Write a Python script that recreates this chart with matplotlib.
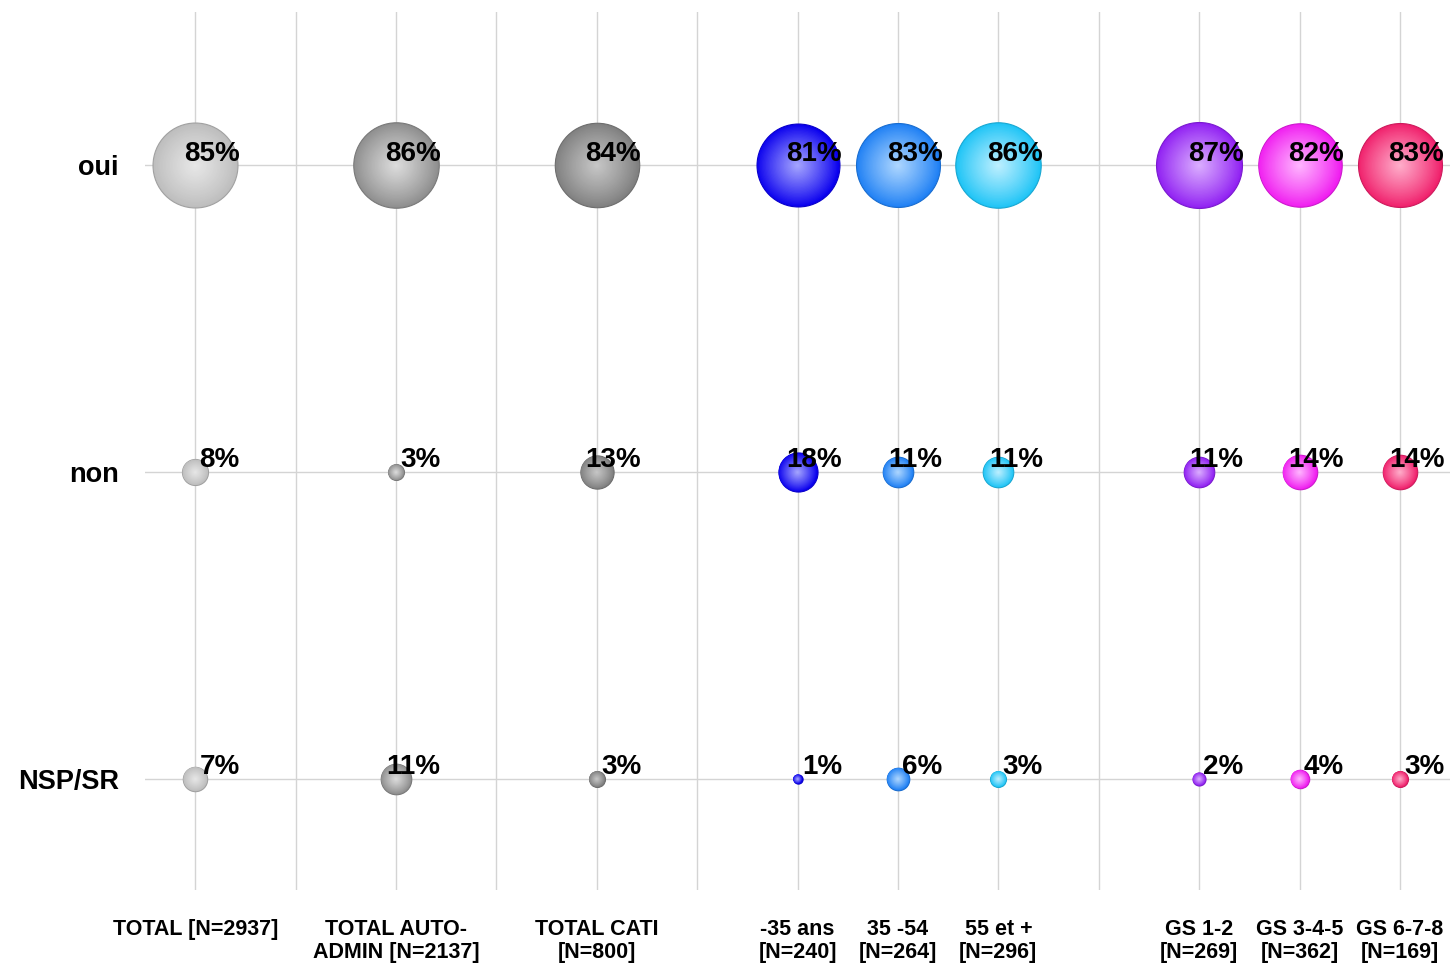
import numpy as np
import matplotlib.pyplot as plt
from matplotlib.colors import to_rgb

plt.rcParams['font.family'] = ['Liberation Sans', 'DejaVu Sans']

# données
groupes = ['TOTAL [N=2937]', 'TOTAL AUTO-\nADMIN [N=2137]', 'TOTAL CATI\n[N=800]',
           '-35 ans\n[N=240]', '35 -54\n[N=264]', '55 et +\n[N=296]',
           'GS 1-2\n[N=269]', 'GS 3-4-5\n[N=362]', 'GS 6-7-8\n[N=169]']
positions = [1, 3, 5, 7, 8, 9, 11, 12, 13]
reponses = ['oui', 'non', 'NSP/SR']
oui = [85, 86, 84, 81, 83, 86, 87, 82, 83]
non = [8, 3, 13, 18, 11, 11, 11, 14, 14]
nsp = [7, 11, 3, 1, 6, 3, 2, 4, 3]

# couleurs (bord, reflet)
bords = ['#bdbdbd', '#8e8e8e', '#808080', '#0a00ee', '#1f80f4', '#1ec4f6',
         '#9020f2', '#f01ef0', '#f0206c']
reflets = ['#e8e8e8', '#dedede', '#c8c8c8', '#a8a8ff', '#b0d8ff', '#c0f0ff',
           '#dcb0ff', '#ffb8ff', '#ffb0cc']

fig = plt.figure(figsize=(14.52, 9.65), dpi=100)
ax = fig.add_axes([0.0999, 0.0777, 0.8988, 0.9098])

y_rows = [3, 2, 1]
s_max = 3830  # taille (pt^2) pour la valeur max
v_max = max(oui + non + nsp)

for yr, vals in zip(y_rows, [oui, non, nsp]):
    for i, (x, v) in enumerate(zip(positions, vals)):
        c_out = np.array(to_rgb(bords[i]))
        c_in = np.array(to_rgb(reflets[i]))
        s = s_max * v / v_max
        n = 30
        for k in range(n):
            f = 1 - k / n
            t = (1 - f) ** 0.9
            col = c_out * (1 - t) + c_in * t
            ax.scatter(x, yr, s=s * f ** 2, color=col,
                       edgecolor=(c_out * 0.85 if k == 0 else 'none'),
                       linewidth=0.8 if k == 0 else 0, zorder=3 + k * 0.01)
        ax.annotate(f'{v}%', (x, yr), xytext=(32, 3.5), textcoords='offset points',
                    ha='right', va='baseline', fontsize=20, fontweight='bold',
                    color='black', zorder=10)

ax.set_xlim(0.5, 13.5)
ax.set_ylim(0.638, 3.5)

ax.set_xticks(range(1, 14))
labels = [''] * 13
for p, g in zip(positions, groupes):
    labels[p - 1] = g
ax.set_xticklabels(labels, fontsize=15.5, fontweight='bold', linespacing=1.12)
ax.tick_params(axis='x', length=0, pad=21)

ax.set_yticks(y_rows)
ax.set_yticklabels(reponses, fontsize=19.5, fontweight='bold')
ax.tick_params(axis='y', length=0, pad=19)

ax.grid(True, color='#d4d4d4', linewidth=1.0, zorder=0)
ax.set_axisbelow(True)
for sp in ax.spines.values():
    sp.set_visible(False)

plt.savefig('out.png', dpi=100)
plt.close()
